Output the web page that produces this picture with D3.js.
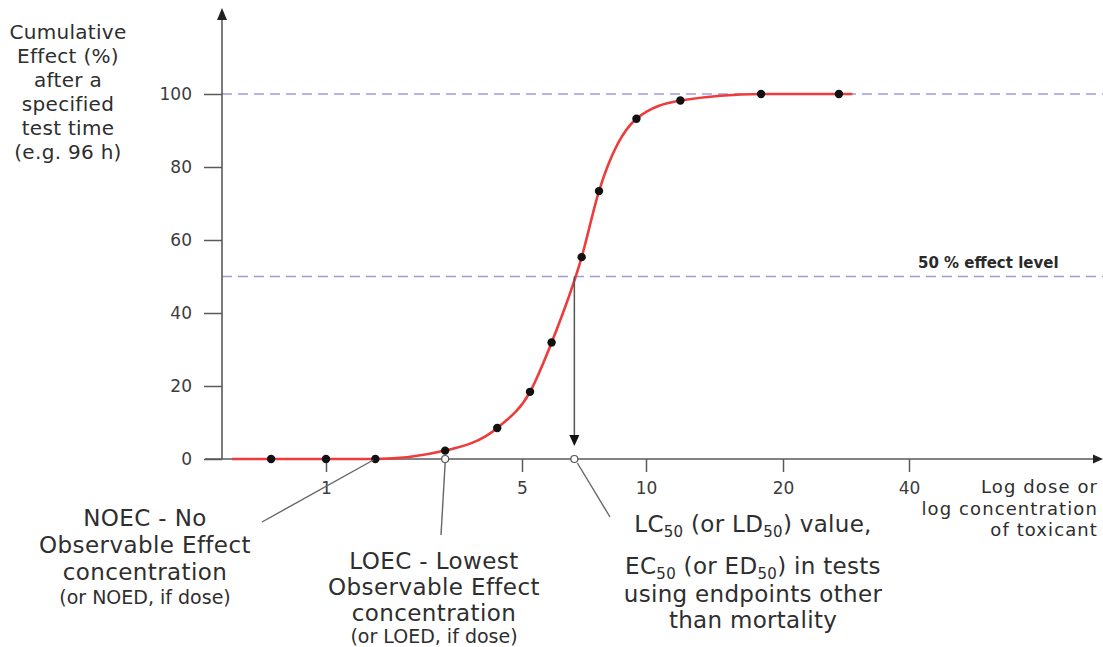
<!DOCTYPE html>
<html>
<head>
<meta charset="utf-8">
<script src="https://cdn.jsdelivr.net/npm/d3@7"></script>
<style>
  html, body { margin: 0; padding: 0; background: #fff; }
  svg { display: block; font-family: "DejaVu Sans", sans-serif; }
</style>
</head>
<body>
<svg id="chart" width="1103" height="647"></svg>
<script>
// ---- data ----
const xTickValues = [1, 5, 10, 20, 40];
const xTickLabels = ["1", "5", "10", "20", "40"];
const yTickValues = [0, 20, 40, 60, 80, 100];
const doses   = [0.637, 1.0, 1.5, 2.66, 4.08, 5.23, 5.9, 6.98, 7.69, 9.48, 11.9, 17.9, 27.2];
const effects = [0, 0, 0, 2.3, 8.5, 18.4, 31.9, 55.3, 73.4, 93.2, 98.2, 100, 100];
const curveDoses   = [0.462, 0.637, 1.0, 1.5, 2.66, 4.08, 5.23, 5.9, 6.98, 7.69, 9.48, 11.9, 17.9, 27.2, 29.3];
const curveEffects = [0, 0, 0, 0, 2.3, 8.5, 18.4, 31.9, 55.3, 73.4, 93.2, 98.2, 100, 100, 100];
const refLevels = [100, 50];
const noecDose = 1.5, loecDose = 2.66, lc50Dose = 6.7, lc50Effect = 50;

const svg = d3.select("#chart");
const W = 1103, H = 647;
const axisX = 222, axisY = 459;

// piecewise log scale (tick spacing in the figure is not uniform)
const x = d3.scaleLog().domain(xTickValues).range([326, 522, 646, 783, 909]);
const y = d3.scaleLinear().domain([0, 100]).range([axisY, 94]);

const axisColor = "#5a5a5a";
const textColor = "#2e2e2e";

// dashed reference lines
svg.selectAll("line.ref").data(refLevels).join("line")
  .attr("x1", axisX).attr("x2", W)
  .attr("y1", d => y(d)).attr("y2", d => y(d))
  .attr("stroke", "#9d9be0").attr("stroke-width", 1.6)
  .attr("stroke-dasharray", "10,6");

// x axis
const xAxis = d3.axisBottom(x).tickValues(xTickValues)
  .tickFormat((d, i) => xTickLabels[i]).tickSize(13).tickSizeOuter(0).tickPadding(10);
const gx = svg.append("g").attr("transform", `translate(0,${axisY})`).call(xAxis);
gx.select(".domain").remove();
gx.selectAll(".tick line").attr("stroke", axisColor).attr("stroke-width", 1.5);
gx.selectAll(".tick text").attr("fill", "#3c3c3c").style("font-size", "17px")
  .style("font-family", "DejaVu Sans, sans-serif");
svg.append("line").attr("x1", 205).attr("x2", W - 6).attr("y1", axisY).attr("y2", axisY)
  .attr("stroke", axisColor).attr("stroke-width", 1.6);
svg.append("path").attr("d", `M${W},${axisY} L${W - 10},${axisY - 4.5} L${W - 10},${axisY + 4.5} Z`)
  .attr("fill", "#222");

// y axis
const yAxis = d3.axisLeft(y).tickValues(yTickValues).tickSize(18).tickSizeOuter(0).tickPadding(12);
const gy = svg.append("g").attr("transform", `translate(${axisX},0)`).call(yAxis);
gy.select(".domain").remove();
gy.selectAll(".tick line").attr("stroke", axisColor).attr("stroke-width", 1.5);
gy.selectAll(".tick text").attr("fill", "#3c3c3c").style("font-size", "17px")
  .style("font-family", "DejaVu Sans, sans-serif");
svg.append("line").attr("x1", axisX).attr("x2", axisX).attr("y1", axisY).attr("y2", 18)
  .attr("stroke", axisColor).attr("stroke-width", 1.6);
svg.append("path").attr("d", `M${axisX},8 L${axisX - 5},20 L${axisX + 5},20 Z`).attr("fill", "#222");

// fitted curve
const curvePts = curveDoses.map((d, i) => [d, curveEffects[i]]);
const line = d3.line().x(d => x(d[0])).y(d => y(d[1])).curve(d3.curveMonotoneX);
svg.append("path").datum(curvePts).attr("d", line)
  .attr("fill", "none").attr("stroke", "#ee3b3b").attr("stroke-width", 2.6);

// data points
const pts = doses.map((d, i) => [d, effects[i]]);
svg.selectAll("circle.pt").data(pts).join("circle")
  .attr("cx", d => x(d[0])).attr("cy", d => y(d[1])).attr("r", 4.2).attr("fill", "#111");

// LC50 drop arrow
svg.append("line").attr("x1", x(lc50Dose)).attr("x2", x(lc50Dose))
  .attr("y1", y(lc50Effect)).attr("y2", y(0) - 16)
  .attr("stroke", "#555").attr("stroke-width", 1.5);
svg.append("path")
  .attr("d", `M${x(lc50Dose)},${y(0) - 13} L${x(lc50Dose) - 5},${y(0) - 24} L${x(lc50Dose) + 5},${y(0) - 24} Z`)
  .attr("fill", "#111");

// open circles on axis (LOEC, LC50)
svg.selectAll("circle.open").data([loecDose, lc50Dose]).join("circle")
  .attr("cx", d => x(d)).attr("cy", y(0)).attr("r", 3.5)
  .attr("fill", "#fff").attr("stroke", "#555").attr("stroke-width", 1.2);

// leader lines
const leaders = [
  { from: [x(noecDose) - 2, y(0) + 1], to: [262, 522] },
  { from: [x(loecDose), y(0) + 4], to: [441, 535] },
  { from: [x(lc50Dose) + 3, y(0) + 4], to: [610, 517] }
];
svg.selectAll("line.leader").data(leaders).join("line")
  .attr("x1", d => d.from[0]).attr("y1", d => d.from[1])
  .attr("x2", d => d.to[0]).attr("y2", d => d.to[1])
  .attr("stroke", "#666").attr("stroke-width", 1.4);

// y axis title
const yTitle = ["Cumulative", "Effect (%)", "after a", "specified", "test time", "(e.g. 96 h)"];
svg.append("g").selectAll("text").data(yTitle).join("text")
  .attr("x", 68).attr("y", (d, i) => 32 + i * 24).attr("dy", "0.35em")
  .attr("text-anchor", "middle").attr("fill", textColor)
  .style("font-size", "20px").style("letter-spacing", "0.3px").text(d => d);

// x axis title
const xTitle = ["Log dose or", "log concentration", "of toxicant"];
svg.append("g").selectAll("text").data(xTitle).join("text")
  .attr("x", 1098).attr("y", (d, i) => 487 + i * 21.5).attr("dy", "0.35em")
  .attr("text-anchor", "end").attr("fill", textColor)
  .style("font-size", "18px").style("letter-spacing", "1.1px").text(d => d);

// 50% effect level
svg.append("text").attr("x", 918).attr("y", y(50) - 14).attr("dy", "0.35em")
  .attr("fill", "#2a2a2a").style("font-size", "15px").style("font-weight", "bold")
  .text("50 % effect level");

// NOEC / LOEC annotations
function block(cx, lines) {
  const g = svg.append("g");
  lines.forEach(l => {
    g.append("text").attr("x", cx).attr("y", l.y).attr("dy", "0.35em")
      .attr("text-anchor", "middle").attr("fill", textColor)
      .style("font-size", l.small ? "19px" : "23px")
      .style("letter-spacing", l.small ? "0px" : "0.4px")
      .text(l.t);
  });
}
block(145, [
  { t: "NOEC - No", y: 518 },
  { t: "Observable Effect", y: 545 },
  { t: "concentration", y: 572 },
  { t: "(or NOED, if dose)", y: 597, small: true }
]);
block(434, [
  { t: "LOEC - Lowest", y: 561 },
  { t: "Observable Effect", y: 587 },
  { t: "concentration", y: 613 },
  { t: "(or LOED, if dose)", y: 636, small: true }
]);

// LC50 annotation with subscripts (shift is undone on the following part)
function subLine(cx, yy, parts) {
  const t = svg.append("text").attr("x", cx).attr("y", yy).attr("dy", "0.35em")
    .attr("text-anchor", "middle").attr("fill", textColor)
    .style("font-size", "23px").style("letter-spacing", "0.3px");
  let shifted = false;
  parts.forEach(p => {
    const ts = t.append("tspan").text(p.t);
    if (p.sub) {
      ts.attr("dy", 5).style("font-size", "15px");
      shifted = true;
    } else if (shifted) {
      ts.attr("dy", -5);
      shifted = false;
    }
  });
}
subLine(753, 524, [{ t: "LC" }, { t: "50", sub: true }, { t: " (or LD" }, { t: "50", sub: true }, { t: ") value," }]);
subLine(753, 566, [{ t: "EC" }, { t: "50", sub: true }, { t: " (or ED" }, { t: "50", sub: true }, { t: ") in tests" }]);
subLine(753, 594, [{ t: "using endpoints other" }]);
subLine(753, 620, [{ t: "than mortality" }]);
</script>
</body>
</html>
